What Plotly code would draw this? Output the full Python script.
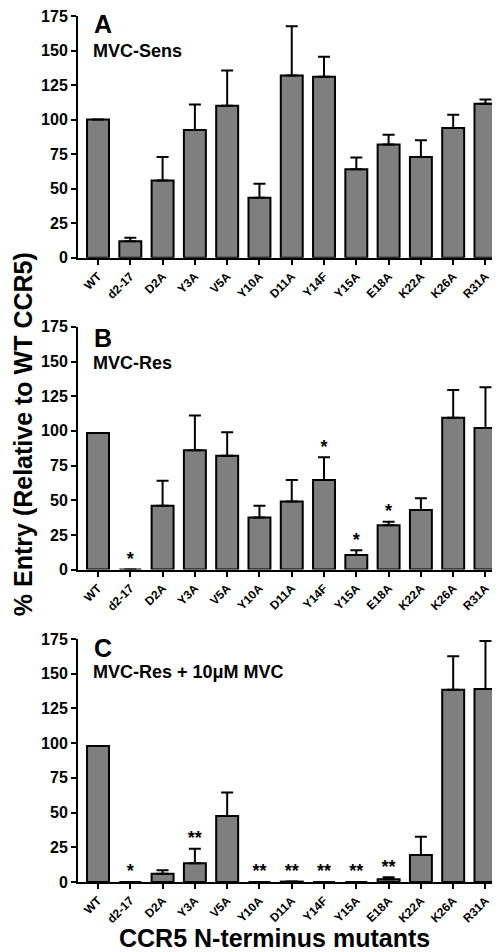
import plotly.graph_objects as go

categories = ["WT", "d2-17", "D2A", "Y3A", "V5A", "Y10A", "D11A", "Y14F",
              "Y15A", "E18A", "K22A", "K26A", "R31A"]

# Panel A: MVC-Sens
a_values = [100, 12, 56, 92.5, 110, 43.5, 132, 131, 64, 82, 73, 94, 111.5]
a_errors = [0, 2.5, 17, 18.5, 25.5, 10, 35.5, 14.5, 8.5, 7, 12, 9.5, 3]
a_stars = [""] * 13

# Panel B: MVC-Res
b_values = [98.5, 0, 46, 86, 82, 37.5, 49, 64.5, 10.5, 32, 43, 109.5, 102]
b_errors = [0, 0, 18, 25, 17, 8.5, 15.5, 16.5, 3.5, 2.5, 8.5, 20, 29.5]
b_stars = ["", "*", "", "", "", "", "", "*", "*", "*", "", "", ""]

# Panel C: MVC-Res + 10uM MVC
c_values = [98, 0, 6, 13.5, 47.5, 0, 0.3, 0, 0, 2, 19.5, 138.5, 139]
c_errors = [0, 0, 2.5, 10.5, 17, 0, 0, 0, 0, 1.5, 13, 24, 34.5]
c_stars = ["", "*", "", "**", "", "**", "**", "**", "**", "**", "", "", ""]

panel_letters = ["A", "B", "C"]
panel_titles = ["MVC-Sens", "MVC-Res", "MVC-Res + 10μM MVC"]
y_ticks = [0, 25, 50, 75, 100, 125, 150, 175]

FONT = "Liberation Sans, Arial, sans-serif"
OFF = 8  # page body margin in the browser
W, H = 500 - OFF, 952 - OFF
ML, MR, MT, MB = 78 - OFF, 0, 0, 70
PW, PH = W - ML - MR, H - MT - MB

def py2paper(py):
    return (H - MB - (py - OFF)) / PH

def px2paper(px):
    return ((px - OFF) - ML) / PW

def clamp(v):
    return min(1.0, max(0.0, v))

# subplot pixel extents in window coords (top, bottom)
panels_px = [(8, 252), (321.7, 566.7), (636.7, 882)]
letter_y = [16, 333, 646]
title_y = [43, 358, 670]

fig = go.Figure()
data = [(a_values, a_errors, a_stars), (b_values, b_errors, b_stars),
        (c_values, c_errors, c_stars)]

for i, (vals, errs, stars) in enumerate(data):
    n = "" if i == 0 else str(i + 1)
    fig.add_trace(go.Bar(
        x=categories, y=vals, xaxis="x" + n, yaxis="y" + n,
        width=0.68,
        marker=dict(color="#7f7f7f", line=dict(color="black", width=2)),
        error_y=dict(type="data", array=errs, arrayminus=[0] * len(errs),
                     symmetric=False, color="black", thickness=2, width=6),
        showlegend=False, hoverinfo="skip",
    ))
    tops = [v + e for v, e in zip(vals, errs)]
    fig.add_trace(go.Scatter(
        x=categories, y=tops, xaxis="x" + n, yaxis="y" + n,
        mode="text", text=stars, textposition="top center",
        textfont=dict(family=FONT, size=18, color="black", weight="bold"),
        showlegend=False, hoverinfo="skip", cliponaxis=False,
    ))
    top, bot = panels_px[i]
    ydom = [clamp(py2paper(bot)), clamp(py2paper(top))]
    axis_common = dict(showgrid=False, zeroline=False, showline=True,
                       linecolor="black", linewidth=2, ticks="outside",
                       tickcolor="black", tickwidth=2, ticklen=5,
                       ticklabeloverflow="allow")
    fig.update_layout(**{
        "xaxis" + n: dict(domain=[0, 1], anchor="y" + n, range=[-0.62, 12.45],
                          tickangle=-45,
                          tickfont=dict(family=FONT, size=12, color="black", weight="bold"),
                          **axis_common),
        "yaxis" + n: dict(domain=ydom, anchor="x" + n, range=[0, 175],
                          tickvals=y_ticks,
                          tickfont=dict(family=FONT, size=16, color="black", weight="bold"),
                          **axis_common),
    })
    # panel letter and title
    fig.add_annotation(x=px2paper(92), y=py2paper(letter_y[i]), xref="paper", yref="paper",
                       text=panel_letters[i], showarrow=False, xanchor="left", yanchor="middle",
                       font=dict(family=FONT, size=25, color="black", weight="bold"))
    fig.add_annotation(x=px2paper(91), y=py2paper(title_y[i]), xref="paper", yref="paper",
                       text=panel_titles[i], showarrow=False, xanchor="left", yanchor="middle",
                       font=dict(family=FONT, size=18, color="black", weight="bold"))

fig.add_annotation(x=px2paper(23), y=py2paper(430), xref="paper", yref="paper",
                   text="% Entry (Relative to WT CCR5)", textangle=-90, showarrow=False,
                   xanchor="center", yanchor="middle",
                   font=dict(family=FONT, size=25, color="black", weight="bold"))
fig.add_annotation(x=px2paper(274), y=py2paper(939), xref="paper", yref="paper",
                   text="CCR5 N-terminus mutants", showarrow=False,
                   xanchor="center", yanchor="middle",
                   font=dict(family=FONT, size=25, color="black", weight="bold"))

fig.update_layout(width=W, height=H, margin=dict(l=ML, r=MR, t=MT, b=MB),
                  plot_bgcolor="white", paper_bgcolor="white", bargap=0.3)

fig.write_html("out.html")
